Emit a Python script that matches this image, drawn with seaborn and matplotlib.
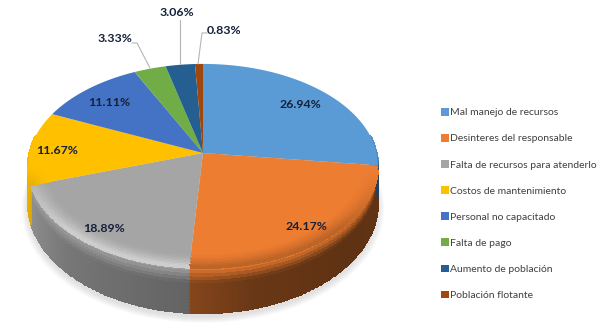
import numpy as np
import matplotlib
matplotlib.use("Agg")
import matplotlib.pyplot as plt
import seaborn as sns
from matplotlib.path import Path
from matplotlib.transforms import Affine2D, Transform
from matplotlib.colors import to_rgb

causas = ["Mal manejo de recursos", "Desinteres del responsable",
          "Falta de recursos para atenderlo", "Costos de mantenimiento",
          "Personal no capacitado", "Falta de pago",
          "Aumento de población", "Población flotante"]
porcentajes = [26.94, 24.17, 18.89, 11.67, 11.11, 3.33, 3.06, 0.83]
colores = ["#5B9BD5", "#ED7D31", "#A5A5A5", "#FFC000",
           "#4472C4", "#70AD47", "#255E91", "#9E480E"]

# centro de cada etiqueta, en pixeles de la imagen
pos_etiquetas = [(300, 105), (306, 226), (104, 229), (57, 151),
                 (109, 103), (115, 38), (177, 12), (224, 30)]
# lineas guia de las tres porciones pequeñas
guias = {5: [(132, 43), (137, 43), (150, 68)],
         6: [(180, 20), (180, 64)],
         7: [(207, 33), (202, 33), (198, 64)]}

CX, CY = 203, 153      # vertice del pastel
RX, RY, K = 173.6, 100.4, 0.127   # perspectiva
ALTO, ESC = 36, 1.08   # cara inferior


def proyectar(u, v):
    """Disco unitario a pixeles, con perspectiva."""
    d = 1 + K * v
    return CX + RX * u / d, CY - RY * v / d


def inferior(u, v):
    x, y = proyectar(u, v)
    return x, CY + ALTO + (y - CY) * ESC


class Vista(Transform):
    input_dims = 2
    output_dims = 2
    is_separable = False

    def transform_non_affine(self, values):
        x, y = proyectar(values[:, 0], values[:, 1])
        return np.column_stack([x, y])

    def transform_path_non_affine(self, path):
        # aplana las curvas para que la perspectiva sea exacta
        grande = path.transformed(Affine2D().scale(800))
        polys = grande.to_polygons(closed_only=False)
        verts = np.vstack(polys) / 800
        return Path(self.transform_non_affine(verts))


sns.set_theme(style="white")
plt.rcParams["font.family"] = ["Lato", "DejaVu Sans"]

fig = plt.figure(figsize=(6.02, 3.29), dpi=100)
ax = fig.add_axes([0, 0, 1, 1])

wedges, _ = ax.pie(porcentajes, colors=sns.color_palette(colores), startangle=90,
                   counterclock=False, radius=1, wedgeprops={"linewidth": 0, "zorder": 3})
ax.set_aspect("auto")
ax.set_xlim(0, 602)
ax.set_ylim(329, 0)
ax.axis("off")
vista = Vista()
for w in wedges:
    w.set_transform(vista + ax.transData)

limites = np.cumsum(porcentajes) * 3.6
rgb = np.array([to_rgb(c) for c in colores])


def color_de(ang):
    return rgb[np.minimum(np.searchsorted(limites, ang), len(rgb) - 1)]


# sombra suave bajo el pastel
th = np.linspace(0, 2 * np.pi, 200)
for i in range(7):
    sx, sy = inferior(np.cos(th), np.sin(th))
    e = 1 + 0.006 * i
    ax.fill(CX + (sx - CX) * e, CY + 4 + (sy - CY) * e, color="#808080",
            alpha=0.035, lw=0, zorder=1)

# pared lateral
ang = np.linspace(80, 280, 401)
medio = (ang[:-1] + ang[1:]) / 2
a = np.radians(ang)
t = np.linspace(0, 1, 15)
tx, ty = proyectar(np.sin(a), np.cos(a))
bx, by = inferior(np.sin(a), np.cos(a))
X = np.outer(1 - t, tx) + np.outer(t, bx)
Y = np.outer(1 - t, ty) + np.outer(t, by)
base = color_de(medio)
# luz de derecha a izquierda: mas clara hacia la izquierda
luz = np.interp(medio, [80, 130, 165, 184, 184.01, 225, 262, 280],
                [0.42, 0.40, 0.44, 0.56, 0.60, 0.72, 0.92, 0.92])
cara = base[None, :, :] * luz[None, :, None]
tm = (t[:-1] + t[1:]) / 2
mezcla = np.clip(tm / 0.35, 0, 1)[:, None, None]
C = base[None, :, :] * (1 - mezcla) + cara * mezcla
ax.pcolormesh(X, Y, np.clip(C, 0, 1), shading="flat", zorder=2,
              edgecolor="face", linewidth=0.2)

# borde iluminado de la cara superior, se desvanece en los extremos
r = np.linspace(0.90, 1, 10)
ang2 = np.linspace(100, 262, 325)
med2 = (ang2[:-1] + ang2[1:]) / 2
a2 = np.radians(ang2)
Xr, Yr = proyectar(np.outer(r, np.sin(a2)), np.outer(r, np.cos(a2)))
base2 = color_de(med2)
rm = (r[:-1] + r[1:]) / 2
fuerza = np.interp(med2, [100, 135, 225, 250, 262], [0, 1, 1, 0.5, 0])
f = ((rm - 0.90) / 0.10)[:, None] ** 1.5 * fuerza[None, :]
f = f[:, :, None]
gris = np.abs(base2 - rgb[2]).sum(axis=1) < 0.01
destino = base2 * 0.78
destino[gris] = [0.82, 0.82, 0.82]
Cr = base2[None, :, :] * (1 - f) + destino[None, :, :] * f
ax.pcolormesh(Xr, Yr, np.clip(Cr, 0, 1), shading="flat", zorder=4,
              edgecolor="face", linewidth=0.2)

# etiquetas de porcentaje
for valor, (x, y) in zip(porcentajes, pos_etiquetas):
    ax.text(x, y, f"{valor:.2f}%", ha="center", va="center", fontsize=8.9,
            fontweight="bold", color="#14213a", zorder=6)

for linea in guias.values():
    xs, ys = zip(*linea)
    ax.plot(xs, ys, color="#b5b5b5", lw=0.8, zorder=5)

ax.legend(wedges, causas, loc="upper left", bbox_to_anchor=(0.733, 0.672),
          frameon=False, fontsize=7.5, labelcolor="#404040", handlelength=0.75,
          handleheight=0.75, handletextpad=0.1, labelspacing=1.6,
          borderpad=0, borderaxespad=0)

fig.savefig("out.png", dpi=100, facecolor="white")
